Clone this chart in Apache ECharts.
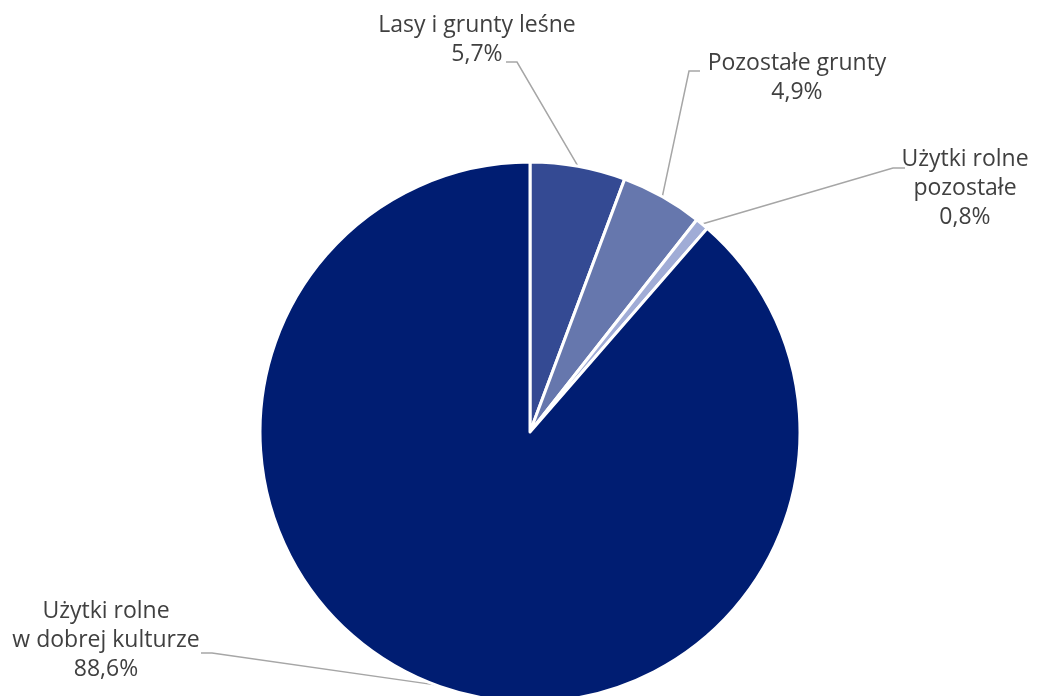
<!DOCTYPE html>
<html><head><meta charset="utf-8">
<script src="https://cdn.jsdelivr.net/npm/echarts@6/dist/echarts.min.js"></script>
<style>html,body{margin:0;padding:0;background:#fff}#c{width:1043px;height:696px}</style>
</head><body><div id="c"></div>
<script>
const categories = ["Lasy i grunty leśne", "Pozostałe grunty", "Użytki rolne\npozostałe", "Użytki rolne\nw dobrej kulturze"];
const values = [5.7, 4.9, 0.8, 88.6];
const colors = ["#344a93", "#6677ad", "#a0acd6", "#001d72"];

// label layout (text centre, elbow point, line end next to text)
const labelPos = [
  {x: 477, y: 40, elbow: [517, 62], end: [506, 62]},
  {x: 797, y: 78, elbow: [689, 71], end: [700, 71]},
  {x: 965, y: 188, elbow: [893, 168], end: [905, 168]},
  {x: 106, y: 640, elbow: [212, 653], end: [201, 653]}
];

const chart = echarts.init(document.getElementById('c'));
chart.setOption({
  animation: false,
  series: [{
    type: 'pie',
    center: [530, 432],
    radius: 270,
    startAngle: 90,
    clockwise: true,
    avoidLabelOverlap: false,
    data: categories.map((n, i) => ({name: n, value: values[i], itemStyle: {color: colors[i]}})),
    itemStyle: {borderColor: '#ffffff', borderWidth: 3},
    label: {
      show: true,
      position: 'outside',
      fontFamily: 'Open Sans',
      fontSize: 23,
      color: '#404040',
      lineHeight: 29,
      align: 'center',
      formatter: p => p.name + '\n' + p.value.toFixed(1).replace('.', ',') + '%'
    },
    labelLine: {show: true, length: 20, length2: 10, smooth: false, lineStyle: {color: '#a6a6a6', width: 1.5}},
    labelLayout: function (params) {
      const L = labelPos[params.dataIndex];
      const p0 = params.labelLinePoints ? params.labelLinePoints[0] : L.elbow;
      return {
        x: L.x, y: L.y, align: 'center', verticalAlign: 'middle',
        labelLinePoints: [p0, L.elbow, L.end]
      };
    },
    emphasis: {disabled: true}
  }]
});
</script></body></html>
